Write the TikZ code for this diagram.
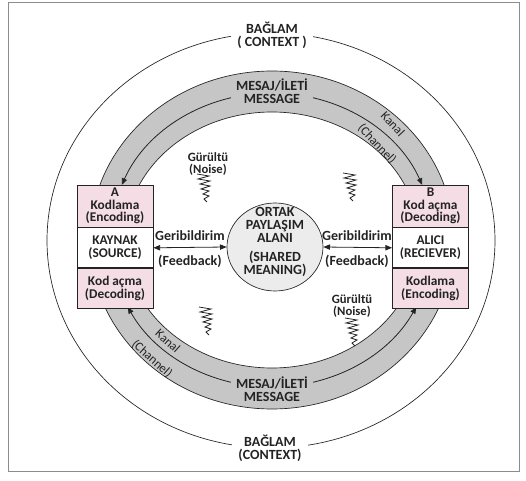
\documentclass[tikz,border=0pt]{standalone}
\usepackage{fontspec}
\setmainfont{Carlito}
\usetikzlibrary{positioning,arrows.meta,shapes.geometric}

\definecolor{ringgray}{RGB}{198,198,198}
\definecolor{cellpink}{RGB}{244,221,229}
\definecolor{meangray}{RGB}{236,236,236}
\definecolor{inkgray}{RGB}{35,35,35}

\tikzset{
  noise/.pic={\draw[line width=0.6pt, inkgray] (-7,0) -- (5,-2) -- (-6,-5) -- (6,-7) -- (-4,-10) -- (6,-12) -- (-3,-15) -- (5,-17) -- (-1,-20) -- (5,-22) -- (0,-25) -- (3,-28);}
}

\begin{document}
\begin{tikzpicture}[x=0.75pt,y=0.75pt,yscale=-1,xscale=1,
    boldtxt/.style={font=\fontsize{10.5}{10}\selectfont\bfseries, text=inkgray, align=center, inner sep=0.75pt},
    ringlabel/.style={boldtxt, fill=ringgray, inner xsep=4pt, inner ysep=1pt},
    ctxlabel/.style={boldtxt, fill=white, inner xsep=5pt, inner ysep=1pt},
    pinkcell/.style={draw=inkgray, line width=0.6pt, fill=cellpink, minimum width=57pt, minimum height=30pt, inner sep=0pt, align=center, font=\fontsize{10}{9.5}\selectfont\bfseries, text=inkgray},
    whitecell/.style={pinkcell, fill=white},
    flow/.style={line width=0.6pt, inkgray, -{Triangle[length=5pt,width=4pt]}},
    fbarrow/.style={line width=0.6pt, inkgray, {Triangle[length=5pt,width=4pt]}-{Triangle[length=5pt,width=4pt]}},
    chan/.style={font=\fontsize{9.5}{9.5}\selectfont, text=inkgray, inner sep=0pt},
    noisetxt/.style={font=\fontsize{9.5}{8.5}\selectfont\bfseries, text=inkgray, align=center, inner sep=0pt}]
			\useasboundingbox (0,0) rectangle (526,481);
			
			%Shape: Frame
			\draw [black!45] (8,2) rectangle (519,471);
			%Shape: Ellipse (context)
			\draw [inkgray, line width=0.5pt] (271,240.5) ellipse [x radius=224, y radius=207.5];
			%Shape: Ring (channel)
			\fill [ringgray, even odd rule] (272,240) ellipse [x radius=182, y radius=169] (272,240) ellipse [x radius=147, y radius=128];
			\draw [inkgray, line width=0.5pt] (272,240) ellipse [x radius=182, y radius=169];
			\draw [inkgray, line width=0.5pt] (272,240) ellipse [x radius=147, y radius=128];
			
			%Curve Lines (message)
			\coordinate (msgtop) at (272,93);
			\coordinate (msgbot) at (272,387);
			\draw [flow] (msgtop) arc [start angle=270, end angle=202, x radius=162, y radius=147];
			\draw [flow] (msgtop) arc [start angle=270, end angle=338, x radius=162, y radius=147];
			\draw [flow] (msgbot) arc [start angle=90, end angle=152.9, x radius=162, y radius=147];
			\draw [flow] (msgbot) arc [start angle=90, end angle=27.1, x radius=162, y radius=147];
			
			% Text Node
			\node [ringlabel] (msgT) at (272,91) {MESAJ/İLETİ\\MESSAGE};
			% Text Node
			\node [ringlabel] (msgB) at (272,389) {MESAJ/İLETİ\\MESSAGE};
			% Text Node
			\node [ctxlabel] (ctxT) at (272,35) {BAĞLAM\\( CONTEXT )};
			% Text Node
			\node [ctxlabel] (ctxB) at (270,448) {BAĞLAM\\(CONTEXT)};
			% Text Node
			\node [chan, rotate=-47] (kanalTR) at (393,124) {Kanal};
			\node [chan, rotate=-47] (chanTR) at (377,144) {(Channel)};
			% Text Node
			\node [chan, rotate=-42] (kanalBL) at (168,341) {Kanal};
			\node [chan, rotate=-42] (chanBL) at (152,359) {(Channel)};
			
			% Text Node
			\node [noisetxt] (noiseTL) at (208,164) {Gürültü\\(Noise)};
			\node [noisetxt] (noiseBR) at (352,306) {Gürültü\\(Noise)};
			%Shape: Zigzag
			\pic at (204,174) {noise};
			\pic at (350,173) {noise};
			\pic at (206,307) {noise};
			\pic at (352,318) {noise};
			
			%Shape: Rectangle (A)
			\node [pinkcell, minimum height=31.5pt] (encA) at (115,206) {A\\Kodlama\\(Encoding)};
			\node [whitecell, below=0pt of encA] (kaynak) {KAYNAK\\(SOURCE)};
			\node [pinkcell, below=0pt of kaynak] (decA) {Kod açma\\(Decoding)};
			%Shape: Rectangle (B)
			\node [pinkcell, minimum height=31.5pt] (decB) at (430.5,206) {B\\Kod açma\\(Decoding)};
			\node [whitecell, below=0pt of decB] (alici) {ALICI\\(RECIEVER)};
			\node [pinkcell, below=0pt of alici] (encB) {Kodlama\\(Encoding)};
			
			%Shape: Ellipse (shared meaning)
			\node [ellipse, draw=inkgray, line width=0.5pt, fill=meangray, minimum width=72pt, minimum height=66pt, inner sep=0pt] (ortak) at (275,247) {};
			\node [boldtxt, font=\fontsize{10.5}{9.75}\selectfont\bfseries] (ortaktxt) at (275,242) {ORTAK\\PAYLAŞIM\\ALANI\\[4.5pt](SHARED\\MEANING)};
			
			%Straight Lines (feedback)
			\draw [fbarrow] (kaynak.east) -- (ortak.west);
			\draw [fbarrow] (ortak.east) -- (alici.west);
			% Text Node
			\node [boldtxt] (fbL) at (190,236) {Geribildirim};
			\node [boldtxt] (fbLen) at (190,261) {(Feedback)};
			\node [boldtxt] (fbR) at (357,236) {Geribildirim};
			\node [boldtxt] (fbRen) at (357,261) {(Feedback)};
			
		\end{tikzpicture}
\end{document}
